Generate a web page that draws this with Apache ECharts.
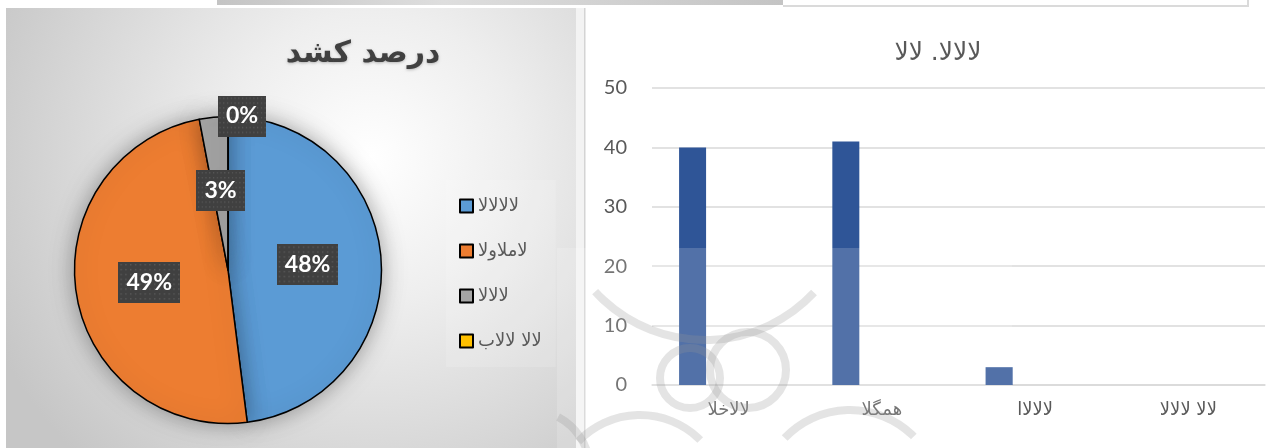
<!DOCTYPE html>
<html>
<head>
<meta charset="utf-8">
<title>درصد کشد</title>
<script src="https://cdn.jsdelivr.net/npm/echarts@6/dist/echarts.min.js"></script>
<style>
  html, body { margin: 0; padding: 0; background: #fff; }
  #main { width: 1280px; height: 448px; }
</style>
</head>
<body>
<div id="main"></div>
<script>
  // pie chart
  var pieNames = ['لالالالا', 'لاملاولا', 'لالالا', 'لالا لالاب'];
  var pieValues = [48, 49, 3, 0];
  var pieColors = ['#5B9BD5', '#ED7D31', '#A5A5A5', '#FFC000'];

  // column chart
  var barCategories = ['لالاخلا', 'همگلا', 'لالالاا', 'لالا لالالا'];
  var barValues = [40, 41, 3, 0];
  var barValues2 = ['-', '-', '-', '-'];   // empty second series in the workbook
  var yTicks = [0, 10, 20, 30, 40, 50];

  var arabicFont = 'DejaVu Sans';
  var numFont = 'Lato';

  // dark dotted box behind the pie labels
  function dotted (w, h) {
    var c = document.createElement('canvas')
    c.width = w
    c.height = h
    var g = c.getContext('2d')
    g.fillStyle = '#404040'
    g.fillRect(0, 0, w, h)
    g.fillStyle = '#595959'
    for (var y = 2; y < h; y += 5) {
      for (var x = 2; x < w; x += 5) g.fillRect(x, y, 1.5, 1.5)
    }
    return c
  }
  var dotBox = dotted(64, 42)

  var myChart = echarts.init(document.getElementById('main'))

  var watermark = { stroke: 'rgba(150,150,150,0.26)', lineWidth: 8, fill: null }

  myChart.setOption({
    animation: false,
    title: [
      {
        text: 'درصد کشد',
        left: 358,
        top: 34,
        textAlign: 'center',
        textStyle: {
          fontFamily: arabicFont,
          fontSize: 30,
          fontWeight: 'bold',
          color: '#404040',
          textShadowColor: 'rgba(0,0,0,0.25)',
          textShadowBlur: 3,
          textShadowOffsetY: 1
        }
      },
      {
        text: 'لالالا. لالا',
        left: 933,
        top: 36,
        textAlign: 'center',
        textStyle: {
          fontFamily: arabicFont,
          fontSize: 25,
          fontWeight: 'normal',
          color: '#595959'
        }
      }
    ],
    legend: {
      data: pieNames,
      orient: 'vertical',
      left: 446,
      top: 180,
      padding: [17, 14, 17, 13],
      backgroundColor: 'rgba(255,255,255,0.14)',
      itemWidth: 13,
      itemHeight: 13,
      itemGap: 27,
      icon: 'rect',
      textStyle: {
        fontFamily: arabicFont,
        fontSize: 18,
        lineHeight: 18,
        color: '#595959'
      }
    },
    grid: {
      left: 652,
      right: 15,
      top: 88,
      bottom: 63
    },
    xAxis: {
      type: 'category',
      data: barCategories,
      axisTick: { show: false },
      axisLine: { lineStyle: { color: '#d9d9d9', width: 1.5 } },
      axisLabel: {
        margin: 16,
        fontFamily: arabicFont,
        fontSize: 18,
        color: '#595959'
      }
    },
    yAxis: {
      type: 'value',
      min: yTicks[0],
      max: yTicks[yTicks.length - 1],
      interval: yTicks[1] - yTicks[0],
      axisLine: { show: false },
      axisTick: { show: false },
      splitLine: { lineStyle: { color: '#d9d9d9', width: 1.5 } },
      axisLabel: {
        margin: 25,
        fontFamily: numFont,
        fontSize: 20,
        color: '#595959'
      }
    },
    series: [
      {
        name: 'درصد کشد',
        type: 'pie',
        center: [228, 270],
        radius: 153.5,
        startAngle: 90,
        clockwise: true,
        avoidLabelOverlap: false,
        data: pieNames.map(function (n, i) {
          return { name: n, value: pieValues[i], itemStyle: { color: pieColors[i] } }
        }),
        itemStyle: {
          borderColor: '#000',
          borderWidth: 1.5,
          shadowBlur: 22,
          shadowColor: 'rgba(0,0,0,0.35)'
        },
        label: {
          show: true,
          position: 'inside',
          formatter: '{d}%',
          fontFamily: numFont,
          fontSize: 23,
          fontWeight: 'bold',
          lineHeight: 23,
          color: '#fff',
          backgroundColor: { image: dotBox },
          padding: [9, 8],
          shadowColor: 'rgba(0,0,0,0.45)',
          shadowBlur: 5,
          shadowOffsetX: 3,
          shadowOffsetY: 3
        },
        labelLine: { show: false },
        labelLayout: function (params) {
          // the empty slice's label sits above the pie in the workbook
          if (params.dataIndex === 3) return { x: 242, y: 116 }
        },
        emphasis: { disabled: true }
      },
      {
        name: 'ستون ۱',
        type: 'bar',
        data: barValues,
        barWidth: 27,
        barGap: '167%',
        itemStyle: { color: '#2F5597' }
      },
      {
        name: 'ستون ۲',
        type: 'bar',
        data: barValues2,
        barWidth: 27,
        itemStyle: { color: '#ED7D31' }
      }
    ],
    graphic: [
      // gray bar along the top edge
      { type: 'rect', z: -5, shape: { x: 217, y: 0, width: 566, height: 5 },
        style: { fill: { type: 'linear', x: 0, y: 0, x2: 1, y2: 0, colorStops: [
          { offset: 0, color: '#c4c4c4' }, { offset: 0.4, color: '#dedede' }, { offset: 1, color: '#c4c4c4' } ] } } },
      { type: 'rect', z: -5, shape: { x: 783, y: 5, width: 465, height: 2 }, style: { fill: '#dadada' } },
      { type: 'rect', z: -5, shape: { x: 1247, y: 0, width: 2, height: 7 }, style: { fill: '#dadada' } },
      // pie panel background
      { type: 'rect', z: -5, shape: { x: 6, y: 8, width: 570, height: 440 },
        style: { fill: { type: 'radial', x: 0.64, y: 0.34, r: 0.95, colorStops: [
          { offset: 0, color: '#ffffff' }, { offset: 0.35, color: '#eeeeee' }, { offset: 1, color: '#c6c6c6' } ] } } },
      // divider
      { type: 'rect', z: -5, shape: { x: 576, y: 8, width: 8, height: 440 }, style: { fill: '#f3f3f3' } },
      { type: 'rect', z: -5, shape: { x: 584, y: 8, width: 1.5, height: 440 }, style: { fill: '#d4d4d4' } },
      // watermark over the lower part
      { type: 'rect', z: 20, silent: true, shape: { x: 557, y: 248, width: 455, height: 200 },
        style: { fill: 'rgba(255,255,255,0.17)' } },
      { type: 'arc', z: 21, silent: true, shape: { cx: 705, cy: 191, r: 149, startAngle: 0.75, endAngle: 2.4 }, style: watermark },
      { type: 'arc', z: 21, silent: true, shape: { cx: 690, cy: 378, r: 30, startAngle: 0, endAngle: Math.PI * 2 }, style: watermark },
      { type: 'arc', z: 21, silent: true, shape: { cx: 748, cy: 370, r: 38, startAngle: 0, endAngle: Math.PI * 2 }, style: watermark },
      { type: 'arc', z: 21, silent: true, shape: { cx: 640, cy: 500, r: 85, startAngle: 3.9, endAngle: 5.5 }, style: watermark },
      { type: 'arc', z: 21, silent: true, shape: { cx: 850, cy: 500, r: 90, startAngle: 3.9, endAngle: 5.5 }, style: watermark },
      { type: 'arc', z: 21, silent: true, shape: { cx: 530, cy: 470, r: 60, startAngle: 5.2, endAngle: 6.2 }, style: watermark }
    ]
  })

  window.addEventListener('resize', function () {
    myChart.resize()
  })
</script>
</body>
</html>
